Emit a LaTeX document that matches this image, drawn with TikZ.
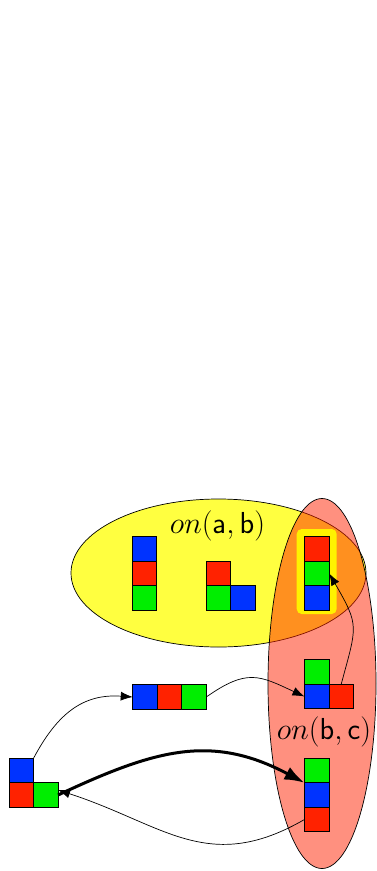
\documentclass[tikz,border=0pt]{standalone}
\usetikzlibrary{arrows.meta}
\definecolor{bred}{RGB}{255,34,0}
\definecolor{bgreen}{RGB}{0,238,0}
\definecolor{bblue}{RGB}{0,51,255}
\definecolor{ellyellow}{RGB}{255,255,64}
\begin{document}
\begin{tikzpicture}[x=1pt,y=-1pt,
  blk/.style={draw=black,line width=0.8pt,minimum size=24.5pt,inner sep=0pt,outer sep=0pt},
  R/.style={blk,fill=bred},
  G/.style={blk,fill=bgreen},
  B/.style={blk,fill=bblue},
  conn/.style={-{Latex[length=12pt,width=9pt]},line width=0.7pt},
  lbl/.style={font=\Huge,inner sep=0pt,scale=1.22}]
\useasboundingbox (0,0) rectangle (377,871);
% yellow ellipse on(a,b)
\draw[fill=ellyellow,line width=0.7pt] (218.5,573) ellipse [x radius=147.5,y radius=74];
% red ellipse on(b,c)
\draw[fill=bred,fill opacity=0.5,line width=0.7pt] (322,683.5) ellipse [x radius=54,y radius=185];
% highlight
\fill[yellow,rounded corners=5pt] (296.7,529) rectangle (336.7,614);
\node[lbl] (tab) at (217.5,526) {$on(\mathsf{a},\mathsf{b})$};
\node[lbl] (tbc) at (324,732) {$on(\mathsf{b},\mathsf{c})$};
% stack A
\node[B] (a1) at (144.5,549) {};
\node[R] (a2) at (144.5,573.5) {};
\node[G] (a3) at (144.5,598) {};
% L1
\node[R] (l1r) at (218.5,573.5) {};
\node[G] (l1g) at (218.5,598) {};
\node[B] (l1b) at (243,598) {};
% highlighted stack
\node[R] (h1) at (317,549) {};
\node[G] (h2) at (317,573.5) {};
\node[B] (h3) at (317,598) {};
% row
\node[B] (r1) at (145,697) {};
\node[R] (r2) at (169.5,697) {};
\node[G] (r3) at (194,697) {};
% L2
\node[G] (l2g) at (316.7,672) {};
\node[B] (l2b) at (316.7,696.5) {};
\node[R] (l2r) at (341.2,696.5) {};
% stack B
\node[G] (s1) at (316.7,770.5) {};
\node[B] (s2) at (316.7,795) {};
\node[R] (s3) at (316.7,819.5) {};
% left L
\node[B] (lb) at (21.3,770.5) {};
\node[R] (lr) at (21.3,795) {};
\node[G] (lg) at (45.8,795) {};
% connectors
\draw[conn] (lb.north east) to[out=62,in=176,looseness=1.1] (r1.west);
\draw[conn] (r3.east) to[out=35,in=155,looseness=1.3] (l2b.west);
\draw[conn] (l2r.north) to[out=75,in=-60,looseness=1.4] (h2.east);
\draw[-{Latex[length=20pt,width=14pt]},line width=3pt] (lg.east) to[out=25,in=152,looseness=1.1] (s1.south west);
\draw[conn] (s3.west) to[out=210,in=-18,looseness=1.15] ([yshift=5pt]lg.east);
\end{tikzpicture}
\end{document}
